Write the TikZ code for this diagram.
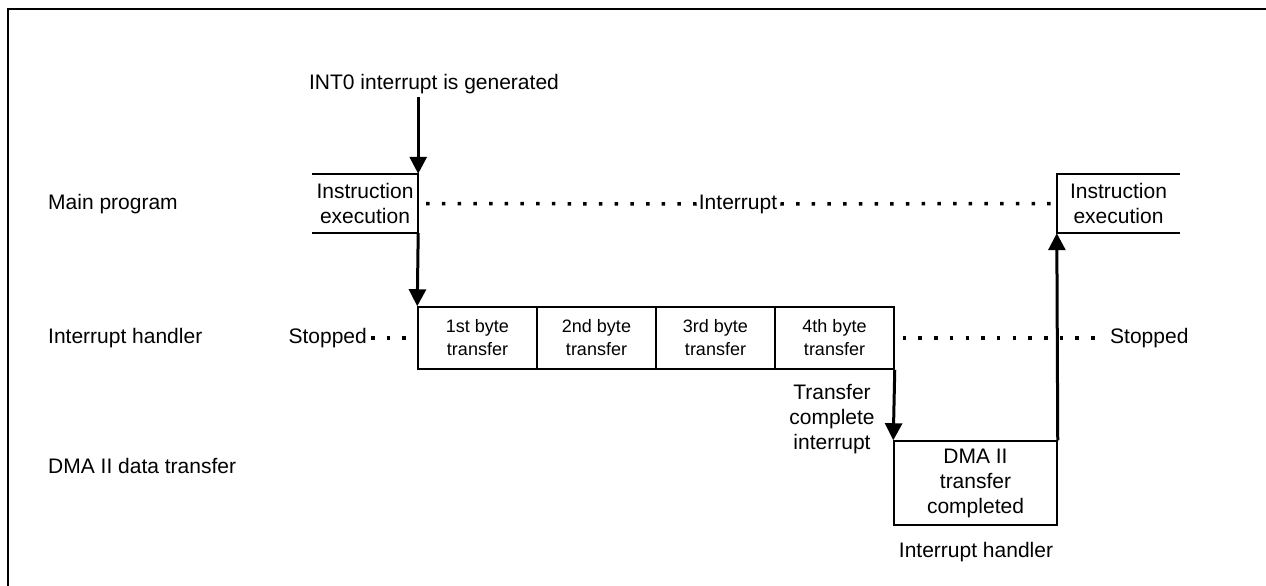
\documentclass[tikz,border=0pt]{standalone}
\usepackage{fontspec}
\setmainfont{Liberation Sans}
\usetikzlibrary{arrows.meta}
\begin{document}
\begin{tikzpicture}[x=1pt,y=-1pt,
  hair/.style={line width=1.5pt},
  thickarrow/.style={line width=3pt,-{Triangle[width=17pt,length=17pt]}},
  dots/.style={line width=3.5pt,dash pattern=on 3.5pt off 12.2pt},
  lbl/.style={font=\fontsize{21}{25}\selectfont, align=center, inner sep=0pt},
  small/.style={font=\fontsize{18}{23}\selectfont, align=center, inner sep=0pt},
  bytebox/.style={draw, line width=1.5pt, minimum width=119pt, minimum height=62pt, small}
]
\useasboundingbox (0,0) rectangle (1266,586);
\draw[line width=2pt] (8,586) -- (8,9) -- (1266,9);

% row labels
\node[lbl, anchor=west] (mp) at (48,204) {Main program};
\node[lbl, anchor=west] (ih) at (48,338) {Interrupt handler};
\node[lbl, anchor=west] (dt) at (48,466) {DMA II data transfer};

% top event
\node[lbl] (int0) at (434,84) {INT0 interrupt is generated};

% main program boxes
\node[lbl, minimum width=106pt, minimum height=59pt] (mainL) at (365,203.5) {Instruction\\execution};
\node[lbl, minimum width=123pt, minimum height=59pt] (mainR) at (1118.5,203.5) {Instruction\\execution};
\draw[hair] (mainL.north west) -- (mainL.north east) -- (mainL.south east) -- (mainL.south west);
\draw[hair] (mainR.north east) -- (mainR.north west) -- (mainR.south west) -- (mainR.south east);
\node[lbl] (intr) at (738,204) {Interrupt};

% byte transfers
\node[bytebox] (b1) at (477.5,338) {1st byte\\transfer};
\node[bytebox] (b2) at (596.5,338) {2nd byte\\transfer};
\node[bytebox] (b3) at (715.5,338) {3rd byte\\transfer};
\node[bytebox] (b4) at (834.5,338) {4th byte\\transfer};
\node[lbl, anchor=east] (stL) at (367,338) {Stopped};
\node[lbl, anchor=west] (stR) at (1110,338) {Stopped};

% DMA completion
\node[draw, line width=1.5pt, minimum width=163pt, minimum height=84pt, lbl] (dma) at (975.5,483) {DMA II\\transfer\\completed};
\node[lbl] (dmah) at (976,552) {Interrupt handler};
\node[lbl] (tci) at (832,419) {Transfer\\complete\\interrupt};

% dotted lines
\draw[dots] ([xshift=8pt]mainL.east) -- ([xshift=-2pt]intr.west);
\draw[dots] ([xshift=3pt]intr.east) -- ([xshift=-6pt]mainR.west);
\draw[dots] ([xshift=4pt]stL.east) -- (b1.west);
\draw[dots] ([xshift=8pt]b4.east) -- ([xshift=-4pt]stR.west);

% arrows
\draw[thickarrow] ([yshift=-3pt]int0.south -| mainL.east) -- (mainL.north east);
\draw[thickarrow] (mainL.south east) -- (b1.north west);
\draw[thickarrow] (b4.south east) -- (dma.north west);
\draw[thickarrow] (dma.north east) -- (mainR.south west);
\end{tikzpicture}
\end{document}
